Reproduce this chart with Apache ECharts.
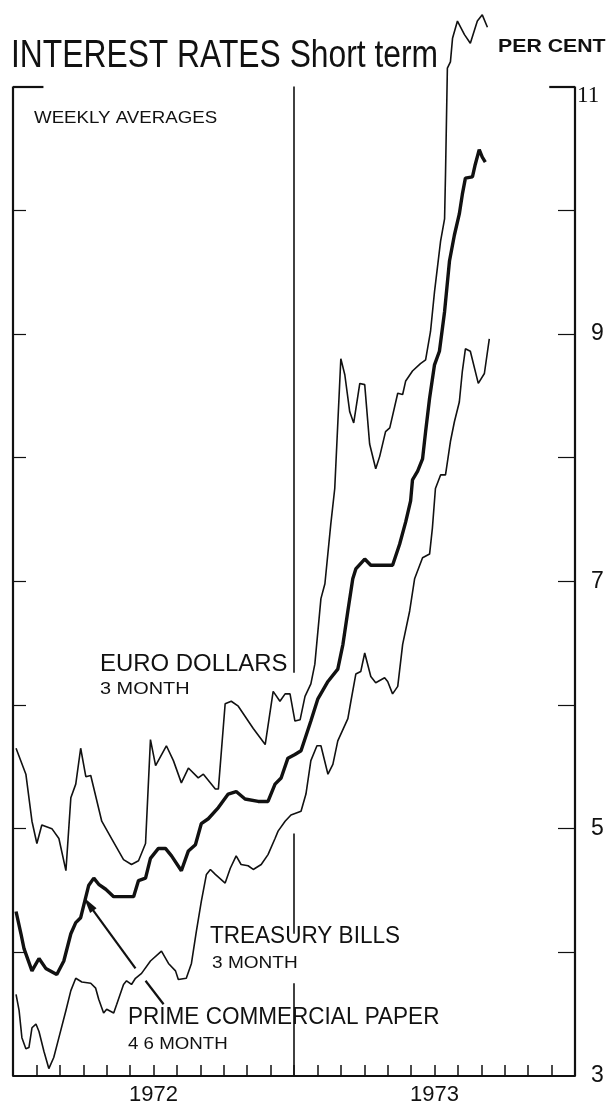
<!DOCTYPE html>
<html><head><meta charset="utf-8">
<script src="https://cdn.jsdelivr.net/npm/echarts@6/dist/echarts.min.js"></script>
<style>html,body{margin:0;padding:0;background:#fff}#c{width:612px;height:1113px}</style>
</head><body><div id="c"></div>
<script>
// x in months since 1 Jan 1972, y in per cent
const euroMonths = [0.13,0.55,0.81,1.02,1.23,1.66,1.96,2.26,2.47,2.68,2.89,3.11,3.32,3.79,4.21,4.72,5.06,5.36,5.66,5.87,6.09,6.55,6.85,7.19,7.49,7.91,8.13,8.64,8.77,9.06,9.32,9.62,10.26,10.77,11.11,11.40,11.62,11.83,12.04,12.26,12.47,12.72,12.89,13.15,13.32,13.57,13.74,14.00,14.17,14.38,14.55,14.81,15.02,15.23,15.49,15.66,15.91,16.09,16.43,16.64,16.77,17.06,17.40,17.62,17.83,18.00,18.26,18.43,18.47,18.55,18.68,18.77,18.98,19.28,19.53,19.83,20.04,20.26];
const euroRates  = [5.65,5.44,5.06,4.88,5.03,5.00,4.92,4.66,5.25,5.36,5.65,5.42,5.43,5.06,4.92,4.75,4.71,4.74,4.88,5.72,5.51,5.67,5.55,5.37,5.49,5.41,5.44,5.32,5.32,6.01,6.03,5.99,5.81,5.68,6.11,6.03,6.09,6.09,5.87,5.88,6.07,6.17,6.33,6.86,6.98,7.46,7.75,8.80,8.67,8.37,8.28,8.60,8.59,8.11,7.91,8.01,8.21,8.24,8.52,8.51,8.62,8.70,8.76,8.79,9.02,9.34,9.75,9.93,10.29,11.15,11.20,11.39,11.53,11.42,11.35,11.53,11.58,11.48];

const cpMonths = [0.13,0.34,0.47,0.81,1.11,1.40,1.87,2.17,2.47,2.68,2.89,3.23,3.45,3.66,3.96,4.30,4.72,5.15,5.36,5.66,5.87,6.21,6.51,6.77,7.19,7.49,7.79,8.04,8.34,8.77,9.19,9.53,9.91,10.47,10.89,11.19,11.45,11.74,12.04,12.30,12.72,13.02,13.45,13.87,14.09,14.30,14.51,14.64,15.02,15.28,16.21,16.51,16.77,16.98,17.06,17.28,17.49,17.62,17.79,18.00,18.21,18.43,18.64,18.85,19.06,19.19,19.32,19.62,19.74,19.91,20.04,20.17];
const cpRates  = [4.33,4.15,4.03,3.85,3.95,3.87,3.82,3.93,4.15,4.24,4.28,4.54,4.60,4.55,4.51,4.45,4.45,4.45,4.58,4.60,4.76,4.84,4.84,4.78,4.66,4.82,4.87,5.04,5.08,5.17,5.28,5.30,5.24,5.22,5.22,5.36,5.41,5.57,5.60,5.63,5.87,6.05,6.19,6.29,6.49,6.76,7.02,7.10,7.18,7.13,7.13,7.30,7.48,7.65,7.82,7.89,7.99,8.21,8.48,8.75,8.86,9.18,9.59,9.80,9.97,10.13,10.26,10.27,10.37,10.49,10.43,10.39];

const tbMonths = [0.13,0.26,0.38,0.55,0.68,0.81,0.98,1.11,1.32,1.53,1.74,1.96,2.26,2.47,2.68,2.94,3.32,3.53,3.66,3.87,4.00,4.30,4.43,4.72,4.85,5.06,5.23,5.49,5.87,6.34,6.64,6.94,7.06,7.40,7.62,7.83,8.04,8.26,8.43,8.64,9.06,9.28,9.53,9.74,10.04,10.26,10.60,10.89,11.19,11.32,11.62,11.87,12.30,12.51,12.72,12.98,13.15,13.45,13.66,13.87,14.30,14.43,14.64,14.85,15.02,15.28,15.49,15.87,16.00,16.21,16.43,16.64,16.94,17.15,17.49,17.79,17.91,18.04,18.26,18.47,18.68,18.85,19.06,19.19,19.32,19.53,19.87,20.13,20.34];
const tbRates  = [3.66,3.53,3.31,3.22,3.23,3.39,3.42,3.36,3.20,3.06,3.15,3.31,3.53,3.69,3.79,3.76,3.75,3.71,3.62,3.51,3.54,3.51,3.58,3.74,3.77,3.74,3.79,3.83,3.93,4.01,3.91,3.85,3.78,3.79,3.91,4.17,4.41,4.63,4.67,4.63,4.56,4.68,4.78,4.71,4.70,4.67,4.71,4.79,4.92,4.98,5.06,5.11,5.14,5.28,5.55,5.67,5.67,5.44,5.52,5.71,5.89,6.03,6.25,6.27,6.42,6.23,6.18,6.22,6.19,6.09,6.15,6.49,6.76,7.02,7.19,7.22,7.43,7.75,7.86,7.86,8.13,8.29,8.45,8.70,8.88,8.86,8.60,8.68,8.96];

const yTickValues = [4,5,6,7,8,9,10];
const yLabelValues = [3,5,7,9];
const yearTickPos = [6,18];
const yearLabels = ['1972','1973'];

function zip(a,b){return a.map((v,i)=>[v,b[i]]);}
const INK = '#111';
const chart = echarts.init(document.getElementById('c'), null, {renderer:'canvas'});
const seg = (a,b,extra)=>[Object.assign({coord:a},extra||{}),{coord:b}];
const SANS = '"Liberation Sans", Arial, sans-serif';
function txt(x,y,text,font,sx){
  return {type:'text',x:x,y:y,scaleX:sx||1,silent:true,
    style:{text:text,font:font,fill:INK,align:'left',verticalAlign:'middle'}};
}

chart.setOption({
  animation:false,
  backgroundColor:'#fff',
  grid:{left:13,right:37,top:0,bottom:37},
  xAxis:{type:'value',min:0,max:24,interval:1,
    axisLine:{show:true,lineStyle:{color:INK,width:2}},
    axisTick:{show:true,inside:true,length:11,lineStyle:{color:INK,width:1.5}},
    splitLine:{show:false},
    axisLabel:{customValues:yearTickPos,margin:8,color:INK,fontSize:22,fontFamily:'Liberation Sans',
      formatter:v=>yearLabels[yearTickPos.indexOf(v)]||''}
  },
  yAxis:[
    {type:'value',position:'left',min:3,max:11.7,interval:1,
      axisLine:{show:false},splitLine:{show:false},axisLabel:{show:false},
      axisTick:{show:true,inside:true,length:13,customValues:yTickValues,lineStyle:{color:INK,width:1.2}}},
    {type:'value',position:'right',min:3,max:11.7,interval:1,
      axisLine:{show:false},splitLine:{show:false},
      axisTick:{show:true,inside:true,length:17,customValues:yTickValues,lineStyle:{color:INK,width:1.2}},
      axisLabel:{customValues:yLabelValues,margin:16,color:INK,fontSize:23,fontFamily:'Liberation Sans'}}
  ],
  series:[
    {name:'Euro dollars',type:'line',data:zip(euroMonths,euroRates),showSymbol:false,symbol:'none',
      lineStyle:{color:INK,width:1.6},z:3},
    {name:'Prime commercial paper',type:'line',data:zip(cpMonths,cpRates),showSymbol:false,symbol:'none',
      lineStyle:{color:INK,width:3.4},z:3},
    {name:'Treasury bills',type:'line',data:zip(tbMonths,tbRates),showSymbol:false,symbol:'none',
      lineStyle:{color:INK,width:1.6},z:3},
    {type:'line',data:[],silent:true,
      markLine:{silent:true,symbol:'none',label:{show:false},lineStyle:{color:INK,width:2.2,type:'solid'},
        data:[seg([0,3],[0,11]),seg([24,3],[24,11]),seg([0,11],[1.3,11]),seg([24,11],[22.9,11])]}},
    {type:'line',data:[],silent:true,
      markLine:{silent:true,symbol:'none',label:{show:false},lineStyle:{color:INK,width:1.6,type:'solid'},
        data:[seg([11.97,11],[11.97,6.26]),seg([11.97,4.96],[11.97,4.15]),seg([11.97,3.75],[11.97,3])]}},
    {type:'line',data:[],silent:true,
      markLine:{silent:true,label:{show:false},symbol:'none',lineStyle:{color:INK,width:2.2,type:'solid'},
        data:[seg([6.43,3.58],[5.66,3.77])]}},
    {type:'line',data:[],silent:true,
      markLine:{silent:true,label:{show:false},symbol:['none','triangle'],symbolSize:[8,16],lineStyle:{color:INK,width:2.2,type:'solid'},
        data:[seg([5.23,3.87],[3.23,4.39])]}}
  ],
  graphic:[
    txt(11,57,'INTEREST RATES Short term','38px '+SANS,0.837),
    txt(498,47,'PER CENT','bold 19px '+SANS,1.12),
    {type:'text',x:577,y:96,silent:true,style:{text:'11',font:'23px "Liberation Serif", serif',fill:INK,align:'left',verticalAlign:'middle'}},
    txt(34,118,'WEEKLY AVERAGES','17px '+SANS,1.1),
    txt(100,665,'EURO DOLLARS','23px '+SANS,1.04),
    txt(100,689,'3 MONTH','17px '+SANS,1.17),
    txt(210,937,'TREASURY BILLS','23px '+SANS,0.98),
    txt(212,963,'3 MONTH','17px '+SANS,1.12),
    txt(128,1018,'PRIME COMMERCIAL PAPER','23px '+SANS,0.98),
    txt(128,1044,'4 6 MONTH','17px '+SANS,1.1)
  ]
});
</script></body></html>
